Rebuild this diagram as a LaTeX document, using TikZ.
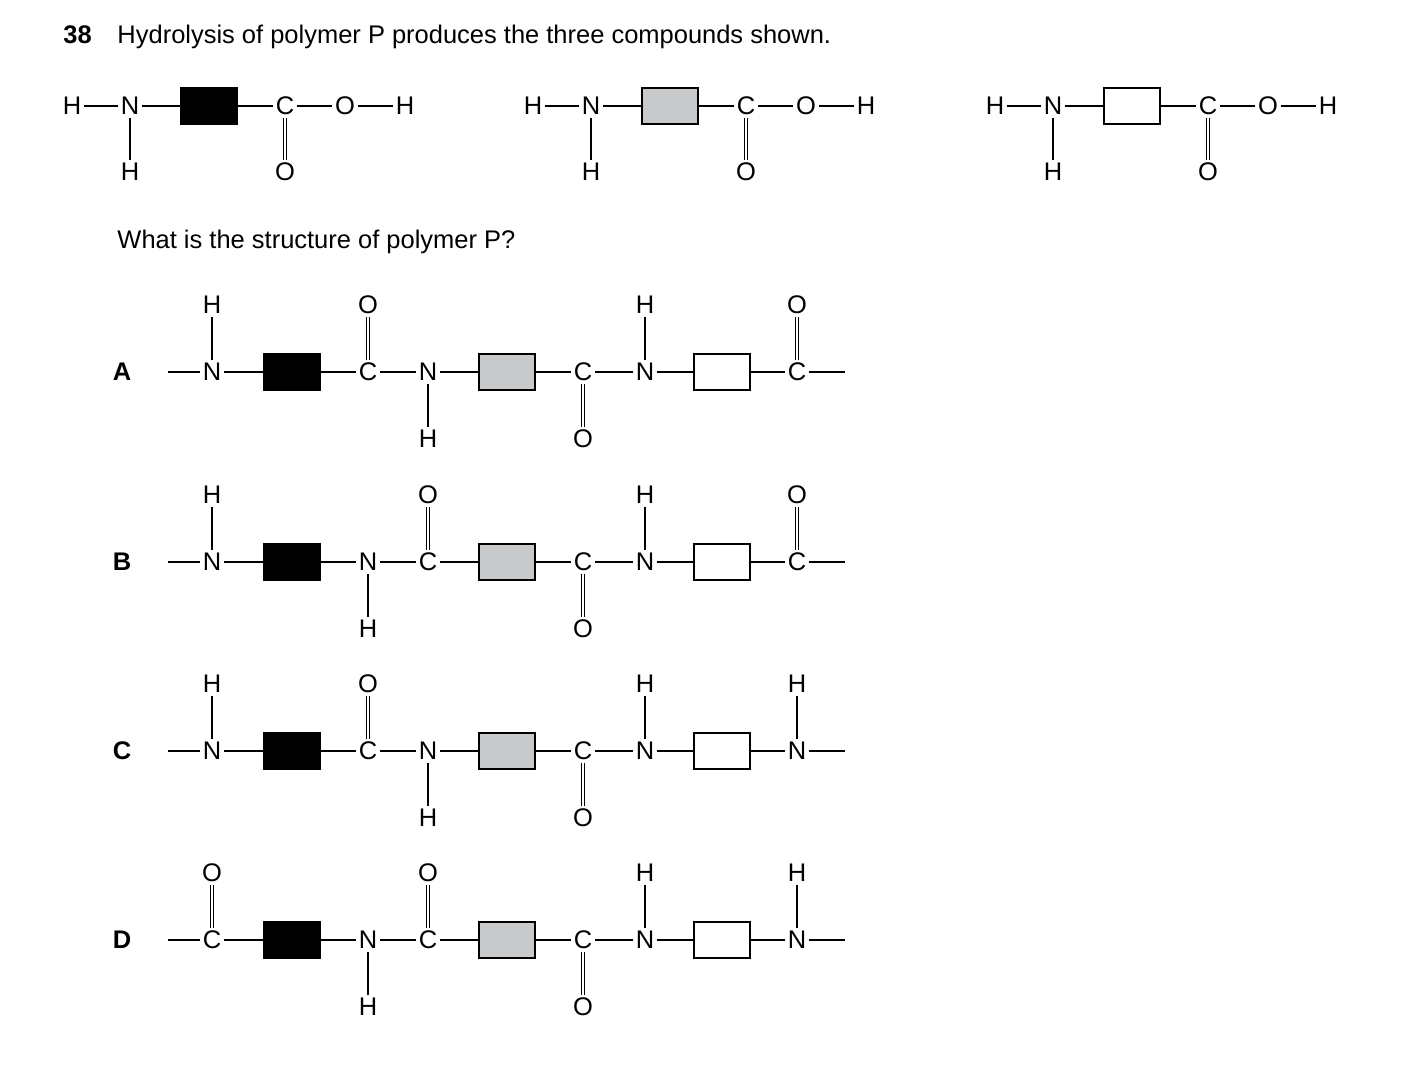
\documentclass[tikz,border=0pt]{standalone}
\usepackage{fontspec}
\setmainfont{Liberation Sans}
\usepackage{tikz}

% one unit of a chain: name/x/atom/substituent/direction/bond
\newcommand{\chain}[3]{%
  \node[font=\fontsize{14.5}{17}\selectfont\bfseries] at (122,#1) {#2};
  \coordinate (start) at (168,#1);
  \coordinate (end) at (845,#1);
  \foreach \n/\x/\a/\s/\d/\b in {#3}{
    \node[atom] (\n) at (\x,#1) {\a};
    \node[atom] (\n s) at (\x,#1\d67) {\s};
    \draw[\b] (\n) -- (\n s);
  }
  \node[box,fill=black] (k1) at (292,#1) {};
  \node[box,fill=grey] (k2) at (507,#1) {};
  \node[box,fill=white] (k3) at (722,#1) {};
  \draw (start) -- (a1) -- (k1) -- (a2) -- (a3) -- (k2) -- (a4) -- (a5) -- (k3) -- (a6) -- (end);
}
% one monomer: x offset and fill
\newcommand{\monomer}[2]{%
  \node[atom] (hl) at (#1+72,106) {H};
  \node[atom] (n) at (#1+130,106) {N};
  \node[atom] (nh) at (#1+130,172) {H};
  \node[box,fill=#2] (k) at (#1+209,106) {};
  \node[atom] (c) at (#1+285,106) {C};
  \node[atom] (co) at (#1+285,172) {O};
  \node[atom] (o) at (#1+345,106) {O};
  \node[atom] (oh) at (#1+405,106) {H};
  \draw (hl) -- (n) -- (k) -- (c) -- (o) -- (oh);
  \draw (n) -- (nh);
  \draw[dbl] (c) -- (co);
}

\definecolor{grey}{RGB}{200,201,202}

\begin{document}
\begin{tikzpicture}[x=0.02cm,y=-0.02cm,line width=0.7pt,
  atom/.style={inner sep=1.5pt,font=\fontsize{14.5}{17}\selectfont},
  box/.style={draw,line width=1.1pt,minimum width=1.12cm,minimum height=0.72cm,inner sep=0pt},
  sgl/.style={},
  dbl/.style={double,double distance=1.6pt,line width=0.6pt}]
\useasboundingbox (0,0) rectangle (1403,1071);

% question text
\node[anchor=base west,font=\fontsize{14.5}{17}\selectfont\bfseries] (num) at (57,44) {38};
\node[anchor=base west,font=\fontsize{14.5}{17}\selectfont] (title) at (111,44) {Hydrolysis of polymer P produces the three compounds shown.};
\node[anchor=base west,font=\fontsize{14.5}{17}\selectfont] (ask) at (111,249) {What is the structure of polymer P?};

% the three monomers
\monomer{0}{black}
\monomer{461}{grey}
\monomer{923}{white}

% the four options
\chain{372}{A}{a1/212/N/H/-/sgl, a2/368/C/O/-/dbl, a3/428/N/H/+/sgl, a4/583/C/O/+/dbl, a5/645/N/H/-/sgl, a6/797/C/O/-/dbl}
\chain{562}{B}{a1/212/N/H/-/sgl, a2/368/N/H/+/sgl, a3/428/C/O/-/dbl, a4/583/C/O/+/dbl, a5/645/N/H/-/sgl, a6/797/C/O/-/dbl}
\chain{751}{C}{a1/212/N/H/-/sgl, a2/368/C/O/-/dbl, a3/428/N/H/+/sgl, a4/583/C/O/+/dbl, a5/645/N/H/-/sgl, a6/797/N/H/-/sgl}
\chain{940}{D}{a1/212/C/O/-/dbl, a2/368/N/H/+/sgl, a3/428/C/O/-/dbl, a4/583/C/O/+/dbl, a5/645/N/H/-/sgl, a6/797/N/H/-/sgl}
\end{tikzpicture}
\end{document}
